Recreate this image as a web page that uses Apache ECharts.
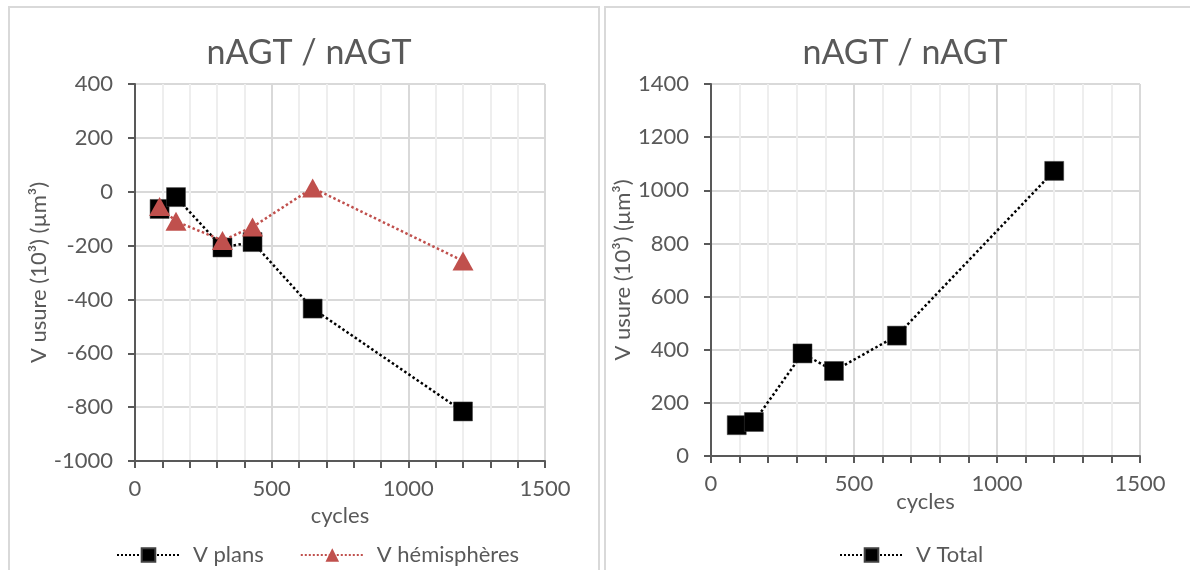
<!DOCTYPE html>
<html>
<head>
<meta charset="utf-8">
<script src="https://cdn.jsdelivr.net/npm/echarts@6/dist/echarts.min.js"></script>
<style>
  html, body { margin: 0; padding: 0; background: #fff; }
  #main { width: 1190px; height: 570px; }
</style>
</head>
<body>
<div id="main"></div>
<script>
// données
var cycles = [90, 150, 320, 430, 650, 1200];
var vPlans = [-64, -20, -207, -187, -434, -816];
var vHemispheres = [-55, -110, -181, -131, 14, -257];
var vTotal = [116, 128, 386, 320, 453, 1073];

var titleText = 'nAGT / nAGT';
var yName = 'V usure (10³) (µm³)';
var xName = 'cycles';

var FONT = 'Lato';
var TXT = '#595959';

function pairs(xs, ys) {
  return xs.map(function (x, i) { return [x, ys[i]]; });
}

// pas de séparateur de milliers
function plain(v) { return String(v); }

function xAxisCfg(gridIndex, nameGap) {
  return {
    type: 'value', gridIndex: gridIndex,
    min: 0, max: 1500, interval: 500,
    name: xName, nameLocation: 'middle', nameGap: nameGap,
    nameMoveOverlap: false,
    nameTextStyle: { color: TXT, fontSize: 22, fontFamily: FONT },
    axisLine: { onZero: false, lineStyle: { color: '#595959', width: 2 } },
    axisTick: { show: true, length: 7, lineStyle: { color: '#595959', width: 2 } },
    minorTick: { show: true, splitNumber: 5, length: 7, lineStyle: { color: '#595959', width: 2 } },
    axisLabel: { color: TXT, fontSize: 22, fontFamily: FONT, margin: 17, formatter: plain },
    splitLine: { show: true, lineStyle: { color: '#d9d9d9', width: 2 } },
    minorSplitLine: { show: true, lineStyle: { color: '#eeeeee', width: 2 } }
  };
}

function yAxisCfg(gridIndex, min, max, nameGap) {
  return {
    type: 'value', gridIndex: gridIndex,
    min: min, max: max, interval: 200,
    name: yName, nameLocation: 'middle', nameGap: nameGap,
    nameTextStyle: { color: TXT, fontSize: 22, fontFamily: FONT },
    axisLine: { show: true, onZero: false, lineStyle: { color: '#595959', width: 2 } },
    axisTick: { show: true, length: 7, lineStyle: { color: '#595959', width: 2 } },
    axisLabel: { color: TXT, fontSize: 22, fontFamily: FONT, margin: 22, formatter: plain },
    splitLine: { show: true, lineStyle: { color: '#d9d9d9', width: 2 } }
  };
}

var chart = echarts.init(document.getElementById('main'));

var option = {
  backgroundColor: '#ffffff',
  animation: false,
  graphic: [
    { type: 'rect', shape: { x: 9, y: 7, width: 590, height: 600 },
      style: { fill: 'none', stroke: '#d9d9d9', lineWidth: 2 }, silent: true },
    { type: 'rect', shape: { x: 605, y: 7, width: 620, height: 600 },
      style: { fill: 'none', stroke: '#d9d9d9', lineWidth: 2 }, silent: true }
  ],
  title: [
    { text: titleText, left: 304, top: 31, textAlign: 'center',
      textStyle: { color: TXT, fontSize: 34, fontWeight: 'normal', fontFamily: FONT } },
    { text: titleText, left: 900, top: 31, textAlign: 'center',
      textStyle: { color: TXT, fontSize: 34, fontWeight: 'normal', fontFamily: FONT } }
  ],
  legend: [
    {
      data: ['V plans', 'V hémisphères'],
      left: 111, top: 539,
      itemWidth: 63, itemHeight: 17, itemGap: 36,
      textStyle: { color: TXT, fontSize: 22, fontFamily: FONT, padding: [0, 0, 0, 8] }
    },
    {
      data: ['V Total'],
      left: 834, top: 539,
      itemWidth: 63, itemHeight: 17,
      textStyle: { color: TXT, fontSize: 22, fontFamily: FONT, padding: [0, 0, 0, 8] }
    }
  ],
  grid: [
    { left: 135, right: 645, top: 84, bottom: 109 },
    { left: 711, right: 50, top: 84, bottom: 114 }
  ],
  xAxis: [xAxisCfg(0, 44), xAxisCfg(1, 35)],
  yAxis: [yAxisCfg(0, -1000, 400, 85), yAxisCfg(1, 0, 1400, 72)],
  series: [
    {
      name: 'V plans', type: 'line', xAxisIndex: 0, yAxisIndex: 0,
      data: pairs(cycles, vPlans),
      symbol: 'rect', symbolSize: 19,
      lineStyle: { color: '#000000', width: 2.5, type: 'dotted' },
      itemStyle: { color: '#000000', borderColor: '#404040', borderWidth: 0.5 },
      z: 2
    },
    {
      name: 'V hémisphères', type: 'line', xAxisIndex: 0, yAxisIndex: 0,
      data: pairs(cycles, vHemispheres),
      symbol: 'triangle', symbolSize: [21, 19],
      lineStyle: { color: '#c0504d', width: 2.5, type: 'dotted' },
      itemStyle: { color: '#c0504d' },
      z: 3
    },
    {
      name: 'V Total', type: 'line', xAxisIndex: 1, yAxisIndex: 1,
      data: pairs(cycles, vTotal),
      symbol: 'rect', symbolSize: 19,
      lineStyle: { color: '#000000', width: 2.5, type: 'dotted' },
      itemStyle: { color: '#000000', borderColor: '#404040', borderWidth: 0.5 }
    }
  ]
};

chart.setOption(option);
</script>
</body>
</html>
